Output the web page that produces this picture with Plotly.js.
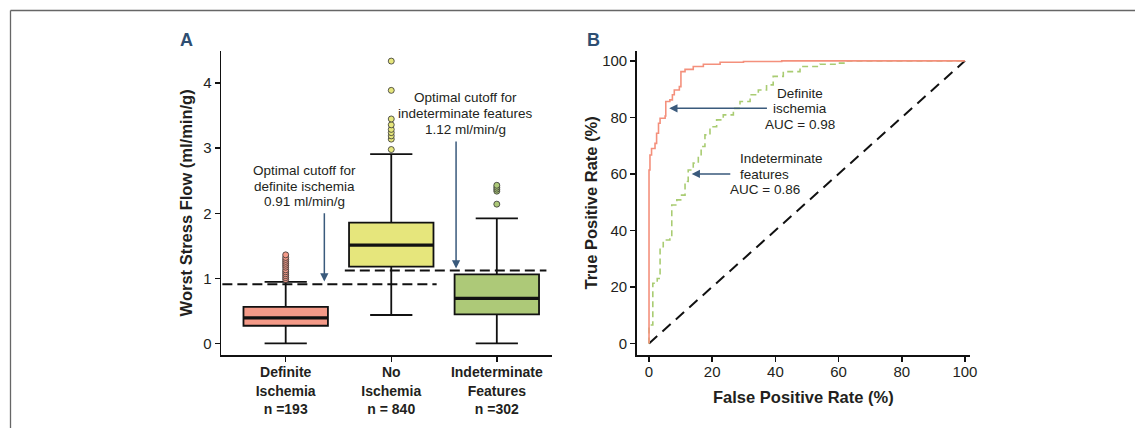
<!DOCTYPE html>
<html>
<head>
<meta charset="utf-8">
<script src="https://cdn.plot.ly/plotly-3.0.1.min.js"></script>
<style>html,body{margin:0;padding:0;background:#fff;}#chart{width:1135px;height:428px;}</style>
</head>
<body>
<div id="chart"></div>
<script>
// ---------- Panel A data (box summary statistics) ----------
var groupLabels = ['<b>Definite</b><br><b>Ischemia</b><br><b>n =193</b>', '<b>No</b><br><b>Ischemia</b><br><b>n = 840</b>', '<b>Indeterminate</b><br><b>Features</b><br><b>n =302</b>'];
var boxColors = ['#F49A88', '#E6E67C', '#ADC978'];
var q1Vals = [0.27, 1.18, 0.445];
var medianVals = [0.39, 1.51, 0.69];
var q3Vals = [0.56, 1.855, 1.06];
var lowerWhisker = [0.0, 0.435, 0.0];
var upperWhisker = [0.945, 2.91, 1.92];
var outliersDefinite = [0.98, 1.01, 1.04, 1.07, 1.10, 1.13, 1.17, 1.20, 1.23, 1.26, 1.29, 1.32, 1.36];
var outliersNo = [2.98, 3.14, 3.19, 3.24, 3.29, 3.36, 3.45, 3.89, 4.34];
var outliersIndet = [2.14, 2.34, 2.37, 2.40, 2.43];
var cutoffValues = [0.91, 1.12];
var yTicksA = [0, 1, 2, 3, 4];

// ---------- Panel B data (ROC curves, %) ----------
var fprDefinite = [0, 0, 0.3, 0.8, 1.9, 2.4, 3.0, 3.5, 5.1, 5.3, 6.6, 7.4, 8.0, 9.6, 10.1, 11.4, 14.0, 17.2, 22.5, 29.9, 42.0, 100];
var tprDefinite = [0, 61.4, 66.7, 69.0, 70.8, 74.4, 77.9, 79.7, 80.5, 85.6, 86.2, 88.0, 89.7, 90.9, 96.2, 97.0, 98.0, 98.8, 99.5, 99.8, 100, 100];
var fprIndet = [0, 0, 1.2, 1.2, 2.6, 3.5, 4.5, 6.6, 7.2, 8.8, 10.3, 11.4, 12.2, 12.4, 14.0, 15.6, 16.5, 17.7, 19.3, 21.4, 23.5, 26.7, 28.8, 32.0, 34.6, 37.2, 39.3, 42.5, 47.8, 54.1, 59.4, 62.6, 100];
var tprIndet = [0, 6.5, 8.3, 21.3, 23.0, 34.2, 36.6, 37.8, 49.0, 50.8, 52.5, 56.7, 57.3, 61.4, 63.8, 66.1, 69.7, 73.8, 76.7, 79.1, 80.9, 83.2, 85.6, 88.0, 89.7, 91.5, 94.5, 96.2, 98.0, 98.8, 99.2, 100, 100];
var chanceLine = [0, 100];
var yTicksB = [0, 20, 40, 60, 80, 100];

var FONT = 'Liberation Sans, Arial, Helvetica, sans-serif';
var TXT = '#231f20';
var ARROW = '#3A5A7C';
var BOXW = 0.8;

var traces = [];
var outlierSets = [outliersDefinite, outliersNo, outliersIndet];
for (var i = 0; i < 3; i++) {
  traces.push({
    type: 'box', x: [i], q1: [q1Vals[i]], median: [medianVals[i]], q3: [q3Vals[i]],
    lowerfence: [lowerWhisker[i]], upperfence: [upperWhisker[i]],
    fillcolor: boxColors[i], line: {color: '#111', width: 1.8},
    width: BOXW, whiskerwidth: 0.5, boxpoints: false, hoverinfo: 'skip',
    xaxis: 'x', yaxis: 'y', showlegend: false
  });
  traces.push({
    type: 'scatter', mode: 'lines', x: [i - BOXW / 2, i + BOXW / 2], y: [medianVals[i], medianVals[i]],
    line: {color: '#111', width: 3.2}, xaxis: 'x', yaxis: 'y', showlegend: false, hoverinfo: 'skip'
  });
  traces.push({
    type: 'scatter', mode: 'markers', x: outlierSets[i].map(function () { return i; }), y: outlierSets[i],
    marker: {size: 6, color: boxColors[i], line: {color: '#333', width: 0.8}},
    xaxis: 'x', yaxis: 'y', showlegend: false, hoverinfo: 'skip'
  });
}
// cutoff lines drawn from cutoff values
var cutoffSpans = [[-0.6, 1.43], [0.56, 2.47]];
cutoffValues.forEach(function (c, k) {
  traces.push({
    type: 'scatter', mode: 'lines', x: cutoffSpans[k], y: [c, c],
    line: {color: '#111', width: 2, dash: '10px,5px'}, xaxis: 'x', yaxis: 'y', showlegend: false, hoverinfo: 'skip'
  });
});

// Panel B
traces.push({
  type: 'scatter', mode: 'lines', x: chanceLine, y: chanceLine,
  line: {color: '#111', width: 2, dash: '11px,7px'}, xaxis: 'x2', yaxis: 'y2', showlegend: false, hoverinfo: 'skip'
});
traces.push({
  type: 'scatter', mode: 'lines', x: fprIndet, y: tprIndet, line: {color: '#A9CC72', width: 1.6, dash: '6px,4px', shape: 'hv'},
  xaxis: 'x2', yaxis: 'y2', showlegend: false, hoverinfo: 'skip'
});
traces.push({
  type: 'scatter', mode: 'lines', x: fprDefinite, y: tprDefinite, line: {color: '#F4907C', width: 1.6, shape: 'hv'},
  xaxis: 'x2', yaxis: 'y2', showlegend: false, hoverinfo: 'skip'
});

function lineBlock(lines, x, y0, step, xref, yref, xanchor) {
  return lines.map(function (t, k) {
    return {x: x, y: y0, xref: xref, yref: yref, text: t, showarrow: false, xanchor: xanchor || 'center', yanchor: 'middle',
      yshift: -k * step, font: {family: FONT, size: 13.5, color: TXT}};
  });
}
function arrow(hx, hy, tx, ty, xref, yref) {
  return {x: hx, y: hy, ax: tx, ay: ty, xref: xref, yref: yref, axref: xref, ayref: yref, text: '', showarrow: true,
    arrowhead: 2, arrowsize: 1.1, arrowwidth: 1.5, arrowcolor: ARROW, standoff: 0, startstandoff: 0};
}

var annotations = [];
annotations = annotations.concat(lineBlock(['Optimal cutoff for', 'definite ischemia', '0.91 ml/min/g'], 0.176, 2.655, 15.5, 'x', 'y'));
annotations = annotations.concat(lineBlock(['Optimal cutoff for', 'indeterminate features', '1.12 ml/min/g'], 1.708, 3.785, 16, 'x', 'y'));
annotations.push(arrow(0.366, 0.95, 0.366, 2.025, 'x', 'y'));
annotations.push(arrow(1.614, 1.15, 1.614, 3.128, 'x', 'y'));
annotations = annotations.concat(lineBlock(['Definite', 'ischemia', 'AUC = 0.98'], 47.8, 88.5, 15.5, 'x2', 'y2'));
annotations = annotations.concat(lineBlock(['Indeterminate', 'features'], 28.3, 65.5, 16, 'x2', 'y2', 'left'));
annotations = annotations.concat(lineBlock(['AUC = 0.86'], 24.9, 54.3, 16, 'x2', 'y2', 'left'));
annotations.push(arrow(6.4, 83.2, 37.8, 83.2, 'x2', 'y2'));
annotations.push(arrow(13.5, 60.0, 26.2, 60.0, 'x2', 'y2'));
// panel letters
annotations.push({x: 186.5 / 1135, y: 1 - 39.5 / 428, xref: 'paper', yref: 'paper', text: '<b>A</b>', showarrow: false,
  xanchor: 'center', yanchor: 'middle', font: {family: FONT, size: 18, color: '#2E4E72'}});
annotations.push({x: 593 / 1135, y: 1 - 39.5 / 428, xref: 'paper', yref: 'paper', text: '<b>B</b>', showarrow: false,
  xanchor: 'center', yanchor: 'middle', font: {family: FONT, size: 18, color: '#2E4E72'}});

var axisCommon = {
  showline: true, linecolor: '#111', linewidth: 1.5, ticks: 'outside', ticklen: 5, tickwidth: 1.5, tickcolor: '#111',
  showgrid: false, zeroline: false, fixedrange: true, automargin: false,
  tickfont: {family: FONT, size: 15, color: TXT}
};
function ax(extra) { return Object.assign({}, axisCommon, extra); }

var yBottom = (428 - 355) / 428, yTop = (428 - 50.7) / 428;
var layout = {
  width: 1135, height: 428, margin: {l: 0, r: 0, t: 0, b: 0},
  paper_bgcolor: '#fff', plot_bgcolor: 'rgba(0,0,0,0)', showlegend: false,
  font: {family: FONT, color: TXT},
  xaxis: ax({domain: [221 / 1135, 551.7 / 1135], range: [-0.613, 2.52], tickmode: 'array', tickvals: [0, 1, 2], ticktext: groupLabels,
    tickfont: {family: FONT, size: 14, color: TXT}, anchor: 'y', ticklabelstandoff: -1}),
  yaxis: ax({domain: [yBottom, yTop], range: [-0.18, 4.5], tickmode: 'array', tickvals: yTicksA, anchor: 'x',
    title: {text: '<b>Worst Stress Flow (ml/min/g)</b>', font: {family: FONT, size: 16.5, color: TXT}, standoff: 6}}),
  xaxis2: ax({domain: [636.7 / 1135, 970 / 1135], range: [-3.9, 101.6], tickmode: 'array', tickvals: yTicksB, anchor: 'y2',
    ticklabelstandoff: -3,
    title: {text: '<b>False Positive Rate (%)</b>', font: {family: FONT, size: 16.5, color: TXT}, standoff: 13}}),
  yaxis2: ax({domain: [yBottom, yTop], range: [-4.1, 103.6], tickmode: 'array', tickvals: yTicksB, anchor: 'x2',
    title: {text: '<b>True Positive Rate (%)</b>', font: {family: FONT, size: 16.5, color: TXT}, standoff: 0}}),
  annotations: annotations,
  shapes: [
    {type: 'line', xref: 'paper', yref: 'paper', x0: 10.5 / 1135, x1: 1, y0: 1 - 10.5 / 428, y1: 1 - 10.5 / 428, line: {color: '#666', width: 1.3}},
    {type: 'line', xref: 'paper', yref: 'paper', x0: 10.5 / 1135, x1: 10.5 / 1135, y0: 1 - 10.5 / 428, y1: 0, line: {color: '#666', width: 1.3}}
  ]
};

Plotly.newPlot('chart', traces, layout, {displayModeBar: false, staticPlot: true});
</script>
</body>
</html>
